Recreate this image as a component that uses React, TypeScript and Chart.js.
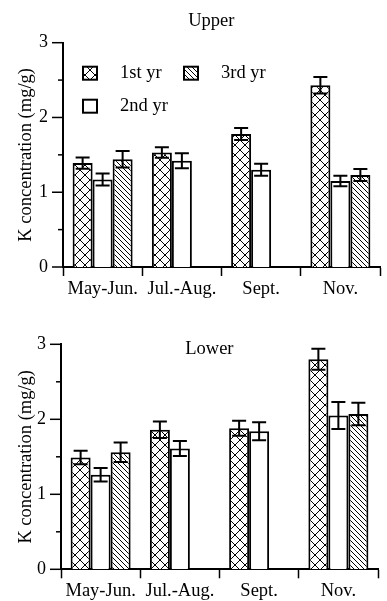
import React, { useEffect, useRef } from 'react';
import { Chart, registerables } from 'chart.js';

Chart.register(...registerables);

const categories = ['May-Jun.', 'Jul.-Aug.', 'Sept.', 'Nov.'];
const seriesNames = ['1st yr', '2nd yr', '3rd yr'];
const yTickLabels = ['0', '1', '2', '3'];

const upper1st = [1.39, 1.53, 1.78, 2.43];
const upper2nd = [1.17, 1.42, 1.3, 1.15];
const upper3rd = [1.44, null, null, 1.23];
const upper1stErr = [0.075, 0.07, 0.08, 0.11];
const upper2ndErr = [0.08, 0.1, 0.08, 0.07];
const upper3rdErr = [0.11, null, null, 0.08];

const lower1st = [1.49, 1.86, 1.88, 2.8];
const lower2nd = [1.26, 1.61, 1.84, 2.05];
const lower3rd = [1.56, null, null, 2.07];
const lower1stErr = [0.09, 0.11, 0.1, 0.14];
const lower2ndErr = [0.09, 0.1, 0.12, 0.18];
const lower3rdErr = [0.13, null, null, 0.15];

const FONT = "'Liberation Serif', 'Times New Roman', serif";

function makePattern(kind: string): CanvasPattern | string {
  if (kind === 'none') return '#ffffff';
  const s = kind === 'cross' ? 10 : 5;
  const c = document.createElement('canvas');
  c.width = s;
  c.height = s;
  const g = c.getContext('2d')!;
  g.fillStyle = '#fff';
  g.fillRect(0, 0, s, s);
  g.strokeStyle = '#000';
  g.lineWidth = 1;
  g.beginPath();
  for (let k = -1; k <= 1; k++) {
    g.moveTo(k * s, 0);
    g.lineTo(k * s + s, s);
    if (kind === 'cross') {
      g.moveTo(k * s, s);
      g.lineTo(k * s + s, 0);
    }
  }
  g.stroke();
  return g.createPattern(c, 'repeat')!;
}

const decoPlugin = {
  id: 'deco',
  afterDatasetsDraw(chart: any, _args: any, opts: any) {
    const ctx = chart.ctx;
    const ys = chart.scales.y;
    ctx.save();
    ctx.strokeStyle = '#000';
    ctx.lineWidth = 2;
    const cw = 14;
    chart.data.datasets.forEach((ds: any, i: number) => {
      const meta = chart.getDatasetMeta(i);
      meta.data.forEach((el: any, j: number) => {
        const v = ds.data[j];
        const e = ds.errors[j];
        if (v == null || e == null) return;
        const x = el.x;
        const yt = ys.getPixelForValue(v + e);
        const yb = ys.getPixelForValue(v - e);
        ctx.beginPath();
        ctx.moveTo(x, yt);
        ctx.lineTo(x, yb);
        ctx.moveTo(x - cw / 2, yt);
        ctx.lineTo(x + cw / 2, yt);
        ctx.moveTo(x - cw / 2, yb);
        ctx.lineTo(x + cw / 2, yb);
        ctx.stroke();
      });
    });
    ctx.restore();
  },
  afterDraw(chart: any, _args: any, opts: any) {
    const ctx = chart.ctx;
    const area = chart.chartArea;
    const ys = chart.scales.y;
    ctx.save();
    // y ticks (major/minor)
    ctx.strokeStyle = '#000';
    ctx.lineWidth = 1.5;
    ys.ticks.forEach((t: any) => {
      const py = ys.getPixelForValue(t.value);
      const len = Number.isInteger(t.value) ? 11 : 5;
      ctx.beginPath();
      ctx.moveTo(area.left - len, py);
      ctx.lineTo(area.left, py);
      ctx.stroke();
    });
    // panel title
    ctx.fillStyle = '#000';
    ctx.font = `18.5px ${FONT}`;
    ctx.textAlign = 'center';
    ctx.textBaseline = 'alphabetic';
    ctx.fillText(opts.title, area.left + area.width * 0.468, opts.titleY);
    // legend
    if (opts.legend) {
      const slots = [
        [0, 0],
        [0, 1],
        [1, 0],
      ];
      chart.data.datasets.forEach((ds: any, i: number) => {
        const [col, row] = slots[i];
        const bx = area.left + 20 + col * 101;
        const by = area.top + 24 + row * 33;
        ctx.fillStyle = ds.backgroundColor;
        ctx.fillRect(bx, by, 14, 13);
        ctx.lineWidth = 2;
        ctx.strokeStyle = '#000';
        ctx.strokeRect(bx, by, 14, 13);
        ctx.fillStyle = '#000';
        ctx.textAlign = 'left';
        ctx.font = `18.5px ${FONT}`;
        ctx.fillText(ds.label, bx + 37, by + 11.5);
      });
    }
    ctx.restore();
  },
};

type PanelProps = {
  height: number;
  title: string;
  titleY: number;
  legend: boolean;
  top: number;
  axisLeft: number;
  right: number;
  xHeight: number;
  values: (number | null)[][];
  errors: (number | null)[][];
};

function Panel(p: PanelProps) {
  const ref = useRef<HTMLCanvasElement>(null);
  useEffect(() => {
    const kinds = ['cross', 'none', 'diag'];
    const chart = new Chart(ref.current!, {
      type: 'bar',
      data: {
        labels: categories,
        datasets: seriesNames.map((name, i) => ({
          label: name,
          data: p.values[i],
          errors: p.errors[i],
          backgroundColor: makePattern(kinds[i]),
          borderColor: '#000',
          borderWidth: 2,
          categoryPercentage: 0.757,
          barPercentage: 1,
        })) as any,
      },
      options: {
        responsive: false,
        animation: false,
        events: [],
        layout: { padding: { top: p.top, right: p.right, bottom: 0, left: 0 } },
        plugins: {
          legend: { display: false },
          tooltip: { enabled: false },
          title: { display: false },
          deco: { title: p.title, titleY: p.titleY, legend: p.legend },
        } as any,
        scales: {
          x: {
            offset: true,
            afterFit: (s: any) => {
              s.height = p.xHeight;
            },
            grid: {
              offset: true,
              drawOnChartArea: false,
              drawTicks: true,
              tickLength: 9,
              tickColor: '#000',
              tickWidth: 1.5,
              color: '#000',
            },
            border: { display: true, color: '#000', width: 2 },
            ticks: {
              color: '#000',
              font: { family: FONT, size: 18.5 },
              padding: 2,
              maxRotation: 0,
              autoSkip: false,
            },
          },
          y: {
            min: 0,
            max: 3,
            afterFit: (s: any) => {
              s.width = p.axisLeft;
            },
            grid: { display: false, drawTicks: false, tickLength: 0 },
            border: { display: true, color: '#000', width: 2 },
            ticks: {
              stepSize: 0.5,
              autoSkip: false,
              color: '#000',
              padding: 15,
              font: { family: FONT, size: 18 },
              callback: (v: any) => {
                const n = Number(v);
                return Number.isInteger(n) ? yTickLabels[n] : '';
              },
            },
            title: {
              display: true,
              text: 'K concentration (mg/g)',
              color: '#000',
              font: { family: FONT, size: 18.5 },
              padding: { top: 15, bottom: 0 },
            },
          },
        },
      },
      plugins: [decoPlugin as any],
    });
    return () => chart.destroy();
  }, []);
  return <canvas ref={ref} width={387} height={p.height} style={{ display: 'block', width: 387, height: p.height }} />;
}

export default function App() {
  return (
    <div style={{ position: 'absolute', left: 0, top: 0, width: 387, height: 601, background: '#fff' }}>
      <Panel
        height={300}
        title="Upper"
        titleY={26}
        legend={true}
        top={42.7}
        axisLeft={63}
        right={7}
        xHeight={33}
        values={[upper1st, upper2nd, upper3rd]}
        errors={[upper1stErr, upper2ndErr, upper3rdErr]}
      />
      <Panel
        height={301}
        title="Lower"
        titleY={54}
        legend={false}
        top={44.3}
        axisLeft={61}
        right={9}
        xHeight={31.7}
        values={[lower1st, lower2nd, lower3rd]}
        errors={[lower1stErr, lower2ndErr, lower3rdErr]}
      />
    </div>
  );
}
